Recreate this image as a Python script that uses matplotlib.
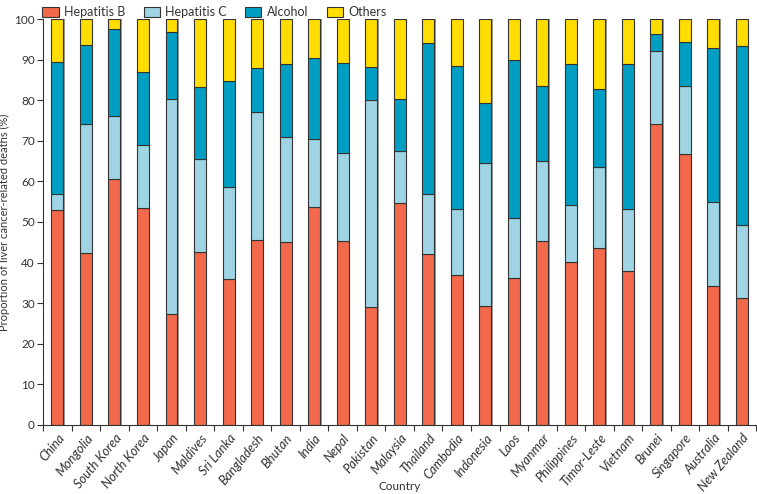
import matplotlib
matplotlib.use("Agg")
import matplotlib.pyplot as plt
import numpy as np

countries = ["China", "Mongolia", "South Korea", "North Korea", "Japan", "Maldives",
             "Sri Lanka", "Bangladesh", "Bhutan", "India", "Nepal", "Pakistan",
             "Malaysia", "Thailand", "Cambodia", "Indonesia", "Laos", "Myanmar",
             "Philippines", "Timor-Leste", "Vietnam", "Brunei", "Singapore",
             "Australia", "New Zealand"]

# cumulative tops (%)
hep_b_top = [53.0, 42.3, 60.6, 53.4, 27.2, 42.6, 36.0, 45.5, 45.0, 53.6, 45.2, 29.0,
             54.6, 42.0, 37.0, 29.2, 36.2, 45.4, 40.2, 43.5, 37.9, 74.2, 66.7, 34.2, 31.3]
hep_c_top = [57.0, 74.2, 76.1, 69.0, 80.4, 65.5, 58.6, 77.2, 71.0, 70.5, 67.0, 80.0,
             67.6, 57.0, 53.3, 64.4, 51.0, 65.0, 54.2, 63.5, 53.2, 92.2, 83.6, 55.0, 49.3]
alcohol_top = [89.5, 93.5, 97.5, 87.0, 96.7, 83.3, 84.8, 88.0, 89.0, 90.5, 89.2, 88.3,
               80.2, 94.0, 88.5, 79.2, 90.0, 83.6, 88.8, 82.8, 89.0, 96.4, 94.3, 92.8, 93.3]

hep_b = np.array(hep_b_top)
hep_c = np.array(hep_c_top) - np.array(hep_b_top)
alcohol = np.array(alcohol_top) - np.array(hep_c_top)
others = 100 - np.array(alcohol_top)

series = [("Hepatitis B", hep_b, "#F26A4B"),
          ("Hepatitis C", hep_c, "#9ED4E4"),
          ("Alcohol", alcohol, "#009EC2"),
          ("Others", others, "#FFDD00")]

plt.rcParams['font.family'] = ['Lato', 'DejaVu Sans']

fig = plt.figure(figsize=(7.57, 4.94), dpi=100)
ax = fig.add_axes([0.057, 0.14, 0.942, 0.8215])

x = np.arange(len(countries))
bottom = np.zeros(len(countries))
w = 0.42
for name, vals, col in series:
    ax.bar(x + 0.05, vals, w, bottom=bottom, color="#9a9a9a", edgecolor="none", zorder=1)
    ax.bar(x, vals, w, bottom=bottom, color=col, edgecolor="#333333", linewidth=0.8,
           label=name, zorder=2)
    bottom = bottom + vals

ax.set_xlim(-0.5, len(countries) - 0.5)
ax.set_ylim(0, 100)
ax.set_yticks(np.arange(0, 101, 10))
ax.tick_params(axis='y', labelsize=8.5, length=4, width=0.8, pad=2,
               color="#333333", labelcolor="#333333")
ax.set_xticks(np.arange(-0.5, len(countries), 1.0))
ax.set_xticklabels([])
ax.set_xticks(x, minor=True)
ax.set_xticklabels(countries, minor=True, rotation=50, ha='right', rotation_mode='anchor',
                   fontsize=9.3, style='italic', color="#333333")
ax.tick_params(axis='x', which='major', length=4, width=0.8, color="#333333")
ax.tick_params(axis='x', which='minor', length=0, pad=5)

for s in ["top", "right"]:
    ax.spines[s].set_visible(False)
for s in ["left", "bottom"]:
    ax.spines[s].set_color("#333333")
    ax.spines[s].set_linewidth(0.8)

ax.set_ylabel("Proportion of liver cancer-related deaths (%)", fontsize=8, color="#333333")
ax.yaxis.set_label_coords(-0.046, 0.5)
ax.set_xlabel("Country", fontsize=8.5, color="#333333")
ax.xaxis.set_label_coords(0.5, -0.138)

leg = ax.legend(loc='lower left', bbox_to_anchor=(-0.002, 1.0), ncol=4, frameon=False,
                fontsize=9, handlelength=1.3, handleheight=0.8, columnspacing=1.5,
                handletextpad=0.4, borderaxespad=0.05, borderpad=0.0)
for t in leg.get_texts():
    t.set_color("#333333")

fig.savefig("out.png", dpi=100)
